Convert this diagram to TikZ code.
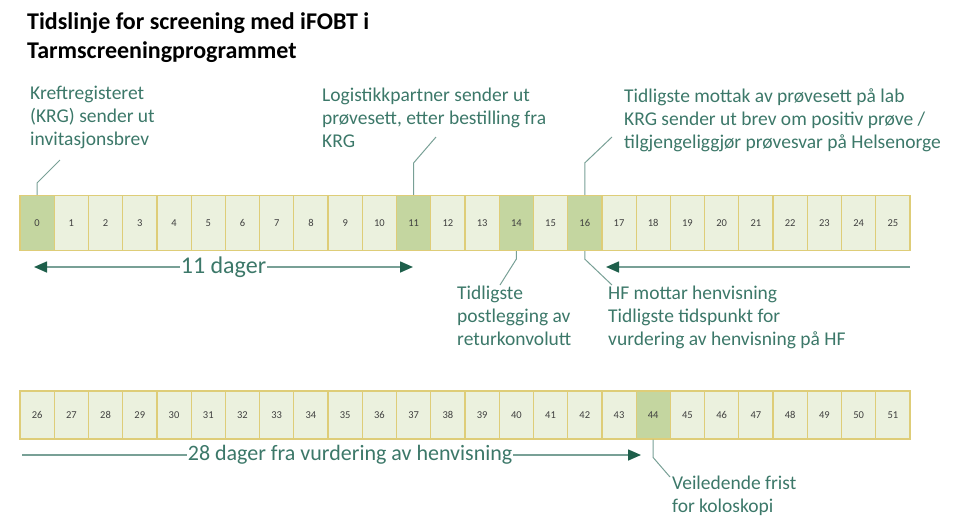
\documentclass[tikz,border=0pt]{standalone}
\usepackage{fontspec}
\setmainfont{Carlito}
\usetikzlibrary{arrows.meta}
\definecolor{boxL}{RGB}{235,241,222}
\definecolor{boxD}{RGB}{196,214,160}
\definecolor{boxB}{RGB}{222,205,120}
\definecolor{txt}{RGB}{60,120,105}
\definecolor{arr}{RGB}{30,95,75}
\definecolor{lin}{RGB}{120,160,150}
\begin{document}
\begin{tikzpicture}[x=1pt,y=-1pt,
 day/.style={draw=boxB,line width=1.2pt,fill=boxL,minimum width=34.2pt,minimum height=55pt,inner sep=0pt,font=\fontsize{10.5}{11}\selectfont\color{black!75}},
 hl/.style={day,fill=boxD},
 lab/.style={align=left,anchor=north west,inner sep=0pt,text=txt,font=\fontsize{19.5}{23}\selectfont},
 call/.style={draw=lin,line width=1pt},
 span/.style={draw=lin,line width=1.6pt,-{Triangle[length=13pt,width=11pt,color=arr]}},
 mid/.style={fill=white,inner sep=1pt,text=txt,font=\fontsize{22}{24}\selectfont}]
\useasboundingbox (0,0) rectangle (970,531);
\node[anchor=north west,inner sep=0pt,align=left,font=\bfseries\fontsize{24}{29}\selectfont] (title) at (27,12) {Tidslinje for screening med iFOBT i\\Tarmscreeningprogrammet};
\foreach \i in {0,...,25}{
  \pgfmathsetmacro{\cx}{20+34.23*\i+17.1}
  \ifnum\i=0 \def\st{hl}\else\ifnum\i=11 \def\st{hl}\else\ifnum\i=14 \def\st{hl}\else\ifnum\i=16 \def\st{hl}\else\def\st{day}\fi\fi\fi\fi
  \node[\st] (d\i) at (\cx,223) {\i};
}
\foreach \i in {26,...,51}{
  \pgfmathsetmacro{\cx}{20+34.23*(\i-26)+17.1}
  \ifnum\i=44 \def\st{hl}\else\def\st{day}\fi
  \node[\st,minimum height=48pt] (d\i) at (\cx,415) {\i};
}
% labels
\node[lab] (l0) at (30,86) {Kreftregisteret\\(KRG) sender ut\\invitasjonsbrev};
\node[lab] (l11) at (322,88) {Logistikkpartner sender ut\\prøvesett, etter bestilling fra\\KRG};
\node[lab] (l16) at (624,88) {Tidligste mottak av prøvesett på lab\\KRG sender ut brev om positiv prøve /\\tilgjengeliggjør prøvesvar på Helsenorge};
\node[lab] (l14) at (457,286) {Tidligste\\postlegging av\\returkonvolutt};
\node[lab] (l16b) at (608,286) {HF mottar henvisning\\Tidligste tidspunkt for\\vurdering av henvisning på HF};
\node[lab] (l44) at (672,476) {Veiledende frist\\for koloskopi};
% callouts
\coordinate (c0) at (60,160);
\coordinate (c11) at (436,137);
\coordinate (c16) at (612,137);
\coordinate (c14) at (500,285);
\coordinate (c16b) at (612,285);
\coordinate (c44) at (670,477);
\draw[call] (d0.north) -- ++(0,-12) -- (c0);
\draw[call] (d11.north) -- ++(0,-32) -- (c11);
\draw[call] (d16.north) -- ++(0,-32) -- (c16);
\draw[call] (d14.south) -- ++(0,8) -- (c14);
\draw[call] (d16.south) -- ++(0,8) -- (c16b);
\draw[call] (d44.south) -- ++(0,18) -- (c44);
% span arrows
\coordinate (a1s) at (34,267); \coordinate (a1e) at (413,267);
\coordinate (a2s) at (910,267); \coordinate (a2e) at (606,267);
\coordinate (a3s) at (22,455); \coordinate (a3e) at (641,455);
\draw[span,{Triangle[length=13pt,width=11pt,color=arr]}-{Triangle[length=13pt,width=11pt,color=arr]}] (a1s) -- node[mid,font=\fontsize{24}{26}\selectfont] (t1) {11 dager} (a1e);
\draw[span] (a2s) -- (a2e);
\draw[span] (a3s) -- node[mid,pos=0.53] (t3) {28 dager fra vurdering av henvisning} (a3e);
\end{tikzpicture}
\end{document}
